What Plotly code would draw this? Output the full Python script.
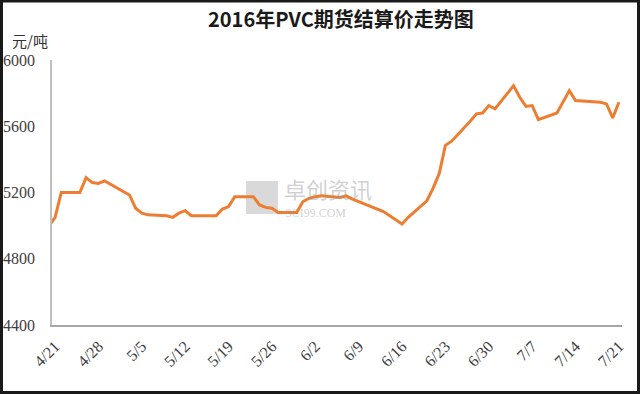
import plotly.graph_objects as go

dates = ["2016-04-20", "2016-04-21", "2016-04-22", "2016-04-25", "2016-04-26", "2016-04-27",
         "2016-04-28", "2016-04-29", "2016-05-03", "2016-05-04", "2016-05-05", "2016-05-06",
         "2016-05-09", "2016-05-10", "2016-05-11", "2016-05-12", "2016-05-13", "2016-05-16",
         "2016-05-17", "2016-05-18", "2016-05-19", "2016-05-20", "2016-05-23", "2016-05-24",
         "2016-05-25", "2016-05-26", "2016-05-27", "2016-05-30", "2016-05-31", "2016-06-01",
         "2016-06-02", "2016-06-03", "2016-06-06", "2016-06-07", "2016-06-08", "2016-06-13",
         "2016-06-14", "2016-06-15", "2016-06-16", "2016-06-17", "2016-06-20", "2016-06-21",
         "2016-06-22", "2016-06-23", "2016-06-24", "2016-06-27", "2016-06-28", "2016-06-29",
         "2016-06-30", "2016-07-01", "2016-07-04", "2016-07-05", "2016-07-06", "2016-07-07",
         "2016-07-08", "2016-07-11", "2016-07-12", "2016-07-13", "2016-07-14", "2016-07-15",
         "2016-07-18", "2016-07-19", "2016-07-20", "2016-07-21"]
prices = [4995, 5050, 5200, 5200, 5290, 5260,
          5255, 5270, 5185, 5105, 5075, 5065,
          5060, 5050, 5075, 5090, 5060, 5060,
          5060, 5100, 5115, 5175, 5175, 5125,
          5110, 5105, 5080, 5080, 5145, 5165,
          5175, 5180, 5170, 5180, 5160, 5085,
          5060, 5035, 5010, 5050, 5150, 5225,
          5315, 5485, 5510, 5630, 5675, 5680,
          5725, 5705, 5845, 5775, 5720, 5725,
          5640, 5680, 5750, 5815, 5755, 5752,
          5745, 5735, 5650, 5745]

tick_dates = ["2016-04-21", "2016-04-28", "2016-05-05", "2016-05-12", "2016-05-19", "2016-05-26",
              "2016-06-02", "2016-06-09", "2016-06-16", "2016-06-23", "2016-06-30", "2016-07-07",
              "2016-07-14", "2016-07-21"]
tick_labels = ["4/21", "4/28", "5/5", "5/12", "5/19", "5/26", "6/2", "6/9", "6/16", "6/23",
               "6/30", "7/7", "7/14", "7/21"]
y_ticks = [4400, 4800, 5200, 5600, 6000]

title_text = "2016年PVC期货结算价走势图"
unit_text = "元/吨"

W, H = 640, 394
L, R, T, B = 52, 18, 60, 69
pw, ph = W - L - R, H - T - B

fig = go.Figure()
fig.add_trace(go.Scatter(
    x=dates, y=prices, mode="lines",
    line=dict(color="#ED7D31", width=3),
    hoverinfo="skip", showlegend=False,
))

serif = "Liberation Serif, Times New Roman, serif"
cjk = "Noto Sans CJK SC, sans-serif"

fig.update_layout(
    width=W, height=H,
    margin=dict(l=L, r=R, t=T, b=B, pad=0),
    paper_bgcolor="white", plot_bgcolor="white",
    xaxis=dict(
        type="date", automargin=False,
        range=["2016-04-20 12:00", "2016-07-21 12:00"],
        tickmode="array", tickvals=tick_dates, ticktext=tick_labels,
        tickangle=-45, ticks="", showgrid=False, zeroline=False,
        showline=True, linecolor="#a6a6a6", linewidth=1.5,
        tickfont=dict(family=serif, size=16, color="#404040"),
        ticklabelstandoff=4,
    ),
    yaxis=dict(
        range=[4400, 6000], tickmode="array", tickvals=y_ticks, automargin=False,
        ticks="", showgrid=False, zeroline=False,
        showline=True, linecolor="#bfbfbf", linewidth=1.5,
        tickfont=dict(family=serif, size=16, color="#404040"),
        ticklabelstandoff=12,
    ),
    font=dict(family=serif),
)

# title and unit
fig.add_annotation(text="<b>" + title_text + "</b>", xref="paper", yref="paper",
                   x=(341 - L) / pw, y=1 + (T - 18) / ph, xanchor="center", yanchor="middle",
                   showarrow=False, font=dict(family=cjk, size=20, color="#1a1a1a"))
fig.add_annotation(text=unit_text, xref="paper", yref="paper",
                   x=(10 - L) / pw, y=1 + (T - 40) / ph, xanchor="left", yanchor="middle",
                   showarrow=False, font=dict(family=cjk, size=15, color="#333333"))

# watermark
fig.add_annotation(text="卓创资讯", xref="paper", yref="paper",
                   x=(282 - L) / pw, y=1 - (188 - T) / ph, xanchor="left", yanchor="middle",
                   showarrow=False, font=dict(family=cjk, size=22, color="rgba(150,150,150,0.45)"))
fig.add_annotation(text="SCI99.COM", xref="paper", yref="paper",
                   x=(283 - L) / pw, y=1 - (213 - T) / ph, xanchor="left", yanchor="middle",
                   showarrow=False, font=dict(family=serif, size=12, color="rgba(150,150,150,0.45)"))
fig.add_shape(type="rect", xref="paper", yref="paper",
              x0=(246 - L) / pw, x1=(278 - L) / pw,
              y0=1 - (214 - T) / ph, y1=1 - (181 - T) / ph,
              line=dict(width=0), fillcolor="rgba(160,160,160,0.4)", layer="below")

# outer frame
fig.add_shape(type="rect", xref="paper", yref="paper",
              x0=-(L - 1.5) / pw, x1=1 + (R - 1.5) / pw,
              y0=-(B - 1.5) / ph, y1=1 + (T - 1) / ph,
              line=dict(color="#1a1a1a", width=3))

fig.write_html("out.html")
